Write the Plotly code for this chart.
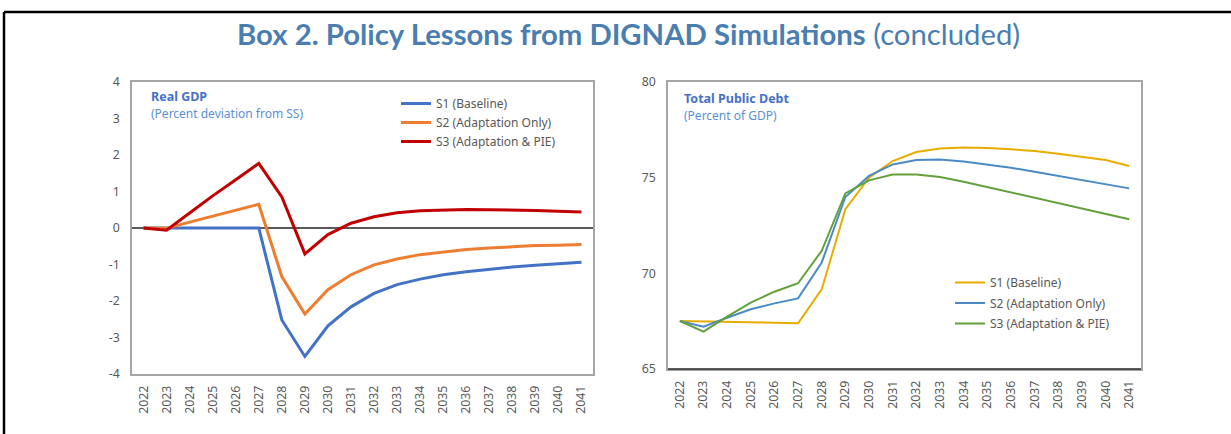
import plotly.graph_objects as go

W, H = 1231, 434

years = [str(y) for y in range(2022, 2042)]

# Real GDP (percent deviation from SS)
gdp_s1 = [0, 0, 0, 0, 0, 0, -2.52, -3.52, -2.68, -2.16, -1.79, -1.55, -1.40, -1.28, -1.20, -1.13, -1.07, -1.02, -0.98, -0.94]
gdp_s2 = [0, -0.01, 0.16, 0.33, 0.49, 0.65, -1.33, -2.36, -1.69, -1.28, -1.01, -0.85, -0.73, -0.65, -0.59, -0.55, -0.51, -0.48, -0.47, -0.45]
gdp_s3 = [0, -0.06, 0.41, 0.88, 1.32, 1.77, 0.85, -0.71, -0.18, 0.13, 0.31, 0.42, 0.47, 0.50, 0.51, 0.50, 0.50, 0.48, 0.46, 0.44]

# Total public debt (percent of GDP)
debt_s1 = [67.51, 67.49, 67.46, 67.44, 67.42, 67.39, 69.16, 73.35, 75.0, 75.87, 76.34, 76.53, 76.58, 76.55, 76.48, 76.39, 76.25, 76.09, 75.92, 75.61]
debt_s2 = [67.51, 67.21, 67.68, 68.12, 68.43, 68.69, 70.57, 73.99, 75.09, 75.69, 75.92, 75.95, 75.85, 75.69, 75.52, 75.31, 75.09, 74.88, 74.65, 74.44]
debt_s3 = [67.51, 66.95, 67.74, 68.47, 69.04, 69.48, 71.18, 74.18, 74.86, 75.17, 75.17, 75.03, 74.79, 74.51, 74.25, 73.96, 73.66, 73.39, 73.09, 72.83]

# y tick labels
gdp_ticks = [-4, -3, -2, -1, 0, 1, 2, 3, 4]
gdp_ticktext = ["-4", "-3", "-2", "-1", "0", "1", "2", "3", "4"]
debt_ticks = [65, 70, 75, 80]

names = ["S1 (Baseline)", "S2 (Adaptation Only)", "S3 (Adaptation & PIE)"]
gdp_colors = ["#4472C4", "#ED7D31", "#C00000"]
debt_colors = ["#E8AC00", "#4A8BC6", "#62A03C"]

FONT = "Noto Sans"
TICK = "#595959"

fig = go.Figure()

for i, (vals, nm, col) in enumerate(zip([gdp_s1, gdp_s2, gdp_s3], names, gdp_colors)):
    fig.add_trace(go.Scatter(x=years, y=vals, name=nm, mode="lines",
                             line=dict(color=col, width=3),
                             xaxis="x", yaxis="y", legend="legend"))
for i, (vals, nm, col) in enumerate(zip([debt_s1, debt_s2, debt_s3], names, debt_colors)):
    fig.add_trace(go.Scatter(x=years, y=vals, name=nm, mode="lines",
                             line=dict(color=col, width=2), legendgroup=f"d{i}",
                             xaxis="x2", yaxis="y2", legend="legend2"))

def px_x(p):
    return p / W

def px_y(p):
    return 1 - p / H

axis_common = dict(showgrid=False, ticks="", ticklen=0, automargin=False,
                   tickfont=dict(family=FONT, size=12.3, color=TICK),
                   showline=True, mirror=True, linecolor="#A6A6A6", linewidth=1.5)

fig.update_layout(
    template="none",
    width=W, height=H, autosize=False,
    margin=dict(l=0, r=0, t=0, b=0, pad=0, autoexpand=False),
    paper_bgcolor="white", plot_bgcolor="white",
    font=dict(family=FONT, color=TICK),
    showlegend=True,
    xaxis=dict(domain=[px_x(132), px_x(593)], anchor="y", type="category",
               range=[-0.5, 19.5], tickangle=-90, zeroline=False, ticklabelstandoff=5, **axis_common),
    yaxis=dict(domain=[px_y(374), px_y(82)], anchor="x", range=[-4, 4],
               tickmode="array", tickvals=gdp_ticks, ticktext=gdp_ticktext, ticklabelstandoff=8,
               zeroline=True, zerolinecolor="#595959", zerolinewidth=1.5, **axis_common),
    xaxis2=dict(domain=[px_x(668), px_x(1141)], anchor="y2", type="category",
                range=[-0.5, 19.5], tickangle=-90, zeroline=False, ticklabelstandoff=5, **axis_common),
    yaxis2=dict(domain=[px_y(369), px_y(82)], anchor="x2", range=[65, 80],
                tickmode="array", tickvals=debt_ticks, ticklabelstandoff=8,
                zeroline=False, **axis_common),
    legend=dict(x=px_x(396), y=px_y(89), xanchor="left", yanchor="top",
                bgcolor="rgba(0,0,0,0)", borderwidth=0, font=dict(family=FONT, size=12, color=TICK),
                tracegroupgap=0, itemwidth=30),
    legend2=dict(x=px_x(950), y=px_y(268), xanchor="left", yanchor="top",
                 bgcolor="rgba(0,0,0,0)", borderwidth=0, font=dict(family=FONT, size=12, color=TICK),
                 tracegroupgap=1.5, itemwidth=30),
)

# bottom axis of right chart darker
fig.add_shape(type="line", xref="x2 domain", yref="y2 domain", x0=0, x1=1, y0=0, y1=0,
              line=dict(color="#262626", width=1.5))

# frame lines
fig.add_shape(type="line", xref="paper", yref="paper", x0=px_x(4), x1=1, y0=px_y(12), y1=px_y(12),
              line=dict(color="black", width=2.5))
fig.add_shape(type="line", xref="paper", yref="paper", x0=px_x(4), x1=px_x(4), y0=0, y1=px_y(12),
              line=dict(color="black", width=2.5))

# title
fig.add_annotation(xref="paper", yref="paper", x=px_x(628), y=px_y(33), xanchor="center", yanchor="middle",
                   showarrow=False,
                   text="<b>Box 2. Policy Lessons from DIGNAD Simula\u200ctions</b> <span style='color:#4A7EB0'>(concluded)</span>",
                   font=dict(family="Lato", size=29.3, color="#4A7EB0"))

# panel titles
lbl = "#4472C4"
sub = "#5B8FD6"
fig.add_annotation(xref="paper", yref="paper", x=px_x(149), y=px_y(97), xanchor="left", yanchor="middle",
                   showarrow=False, text="<b>Real GDP</b>", font=dict(family=FONT, size=12.5, color=lbl))
fig.add_annotation(xref="paper", yref="paper", x=px_x(149), y=px_y(114), xanchor="left", yanchor="middle",
                   showarrow=False, text="(Percent deviation from SS)", font=dict(family=FONT, size=12, color=sub))
fig.add_annotation(xref="paper", yref="paper", x=px_x(682), y=px_y(98), xanchor="left", yanchor="middle",
                   showarrow=False, text="<b>Total Public Debt</b>", font=dict(family=FONT, size=12.5, color=lbl))
fig.add_annotation(xref="paper", yref="paper", x=px_x(682), y=px_y(115), xanchor="left", yanchor="middle",
                   showarrow=False, text="(Percent of GDP)", font=dict(family=FONT, size=12, color=sub))

fig.write_html("out.html", config={"displayModeBar": False},
               post_script="document.body.style.margin='0';document.body.style.overflow='hidden';")
